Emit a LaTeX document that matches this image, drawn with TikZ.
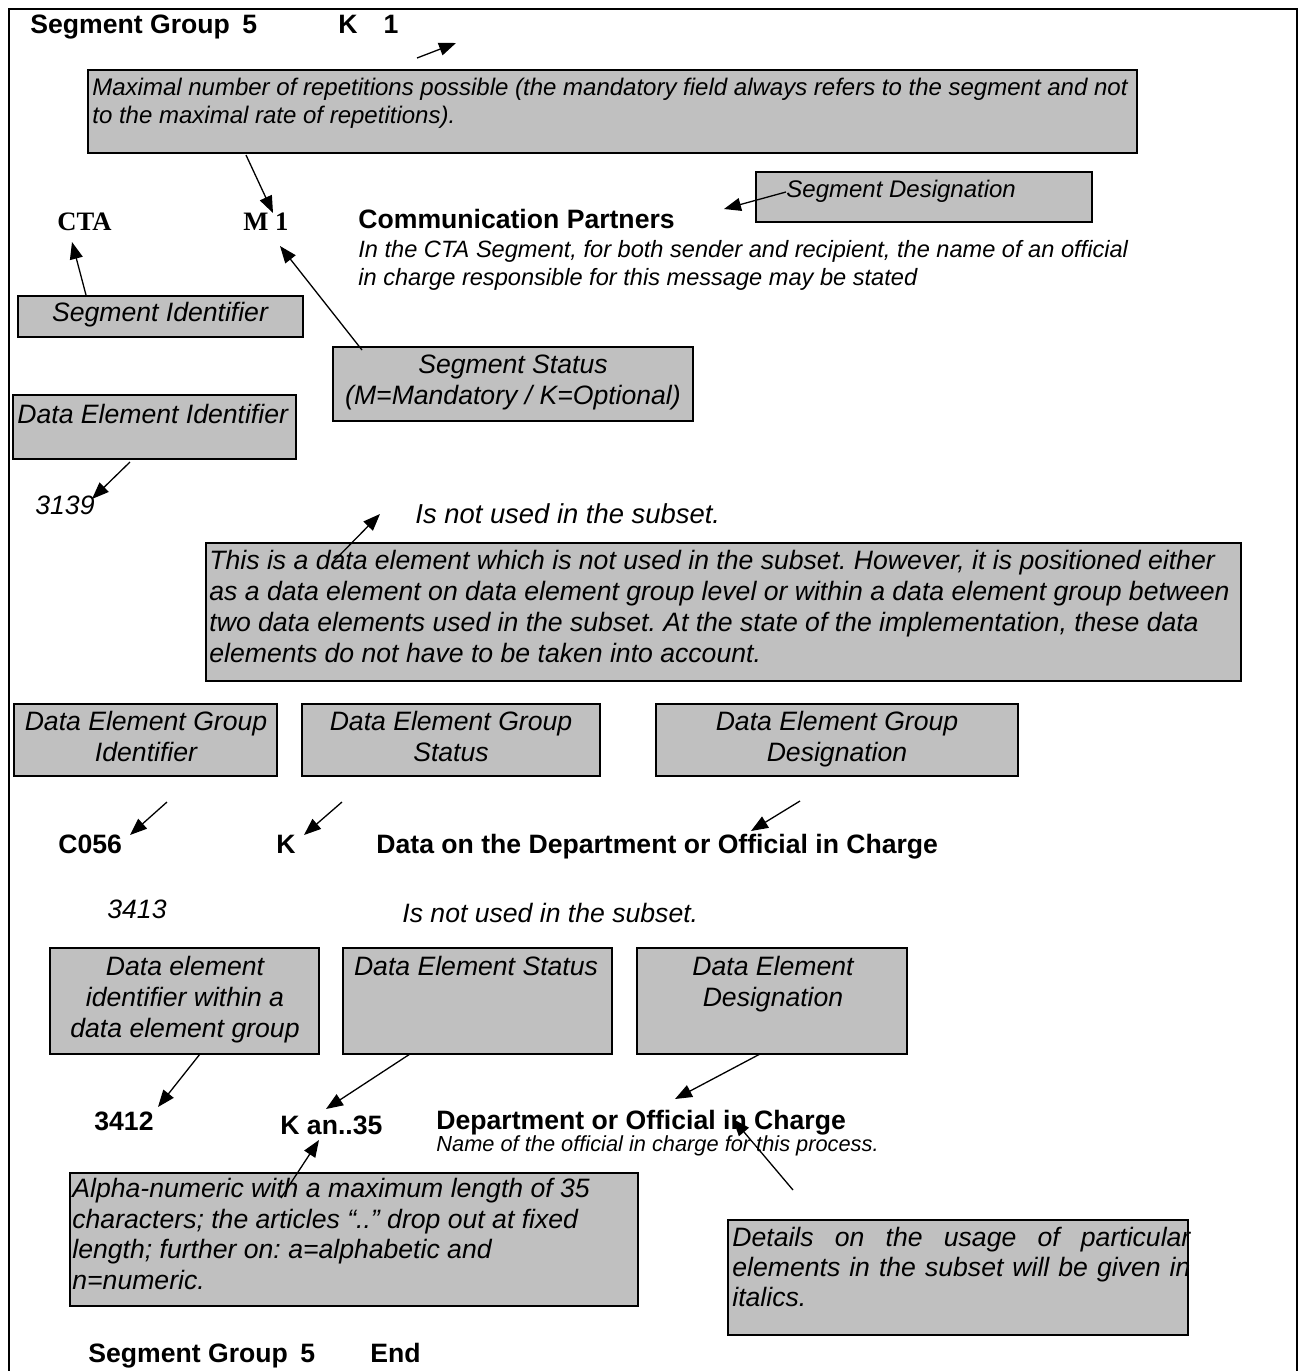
\documentclass[tikz,border=0pt]{standalone}
\usepackage{fontspec}
\setmainfont{Liberation Sans}
\newfontfamily\timesf{Liberation Serif}
\usetikzlibrary{arrows.meta,fit}
\definecolor{boxgray}{HTML}{C0C0C0}
\frenchspacing
\tikzset{
  gbox/.style={draw=black, fill=boxgray, line width=1pt, inner sep=0pt},
  arr/.style={-{Triangle[length=8.5pt,width=6.5pt]}, line width=0.65pt},
  boldt/.style={font=\fontsize{13.3}{15.5}\selectfont\bfseries, inner sep=0pt},
  timest/.style={font=\fontsize{13.3}{15.5}\selectfont\timesf\bfseries, inner sep=0pt},
  itt/.style={font=\fontsize{13.3}{15.5}\selectfont\itshape, inner sep=0pt},
  itbig/.style={font=\fontsize{13.7}{15.5}\selectfont\itshape, inner sep=0pt},
  itmid/.style={font=\fontsize{12}{14}\selectfont\itshape, inner sep=0pt},
  itsmall/.style={font=\fontsize{10.9}{13}\selectfont\itshape, inner sep=0pt},
}
\begin{document}
\frenchspacing
\begin{tikzpicture}[x=0.5pt,y=-0.5pt]
\useasboundingbox (0,0) rectangle (1306,1371);
% outer frame
\draw[line width=0.8pt] (9,1390) -- (9,9) -- (1297,9) -- (1297,1390);

% ---- boxes ----
\node[gbox, fit={(88,70) (1137,153)}] (b1) {};
\node[gbox, fit={(756,172) (1092,222)}] (segdes) {};
\node[gbox, fit={(18,296) (303,337)}] (segid) {};
\node[gbox, fit={(333,347) (693,421)}] (segstat) {};
\node[gbox, fit={(13,395) (296,459)}] (deid) {};
\node[gbox, fit={(206,543) (1241,681)}] (big) {};
\node[gbox, fit={(14,704) (277,776)}] (degid) {};
\node[gbox, fit={(302,704) (600,776)}] (degstat) {};
\node[gbox, fit={(656,704) (1018,776)}] (degdes) {};
\node[gbox, fit={(50,948) (319,1054)}] (deidg) {};
\node[gbox, fit={(343,948) (612,1054)}] (destat) {};
\node[gbox, fit={(637,948) (907,1054)}] (dedes) {};
\node[gbox, fit={(70,1173) (638,1306)}] (alpha) {};
\node[gbox, fit={(728,1220) (1188,1335)}] (details) {};

% ---- texts in boxes (multi-line nodes: base = last line) ----
\node[itmid, anchor=base west, align=left] (tb1) at (92,123)
  {Maximal number of repetitions possible (the mandatory field always refers to the segment and not\\to the maximal rate of repetitions).};
\node[itmid, anchor=base west] (tsegdes) at (786,197) {Segment Designation};
\node[itt, anchor=base] (tsegid) at (160,321) {Segment Identifier};
\node[itt, anchor=base, align=center] (tsegstat) at (513,404)
  {Segment Status\\(M=Mandatory / K=Optional)};
\node[itt, anchor=base west] (tdeid) at (17,423) {Data Element Identifier};
\node[itt, anchor=base west, align=left] (tbig) at (209,662)
  {This is a data element which is not used in the subset. However, it is positioned either\\as a data element on data element group level or within a data element group between\\two data elements used in the subset. At the state of the implementation, these data\\elements do not have to be taken into account.};
\node[itt, anchor=base, align=center] (tdegid) at (146,761) {Data Element Group\\Identifier};
\node[itt, anchor=base, align=center] (tdegstat) at (451,761) {Data Element Group\\Status};
\node[itt, anchor=base, align=center] (tdegdes) at (837,761) {Data Element Group\\Designation};
\node[itt, anchor=base, align=center] (tdeidg) at (185,1037) {Data element\\identifier within a\\data element group};
\node[itt, anchor=base] (tdestat) at (476,975) {Data Element Status};
\node[itt, anchor=base, align=center] (tdedes) at (773,1006) {Data Element\\Designation};
\node[itt, anchor=base west, align=left, font=\fontsize{13.3}{15.25}\selectfont\itshape] (talpha) at (72,1289)
  {Alpha-numeric with a maximum length of 35\\characters; the articles “..” drop out at fixed\\length; further on: a=alphabetic and\\n=numeric.};
\node[itt, anchor=base west, text width=229pt, align=justify, font=\fontsize{13.3}{15}\selectfont\itshape] (tdetails) at (732,1246)
  {Details on the usage of particular\linebreak elements in the subset will be given in\linebreak italics.};

% ---- free texts ----
\node[boldt, anchor=base west] (sg5) at (30,33) {Segment Group\hspace{2.5pt} 5};
\node[boldt, anchor=base west] (k1) at (338,33) {K\hspace{13pt}1};
\node[timest, anchor=base west] (cta) at (57,230) {CTA};
\node[timest, anchor=base west] (m1) at (243,230) {M 1};
\node[boldt, anchor=base west] (comm) at (358,228) {Communication Partners};
\node[itmid, anchor=base west, align=left, font=\fontsize{11.8}{14}\selectfont\itshape] (commtxt) at (358,285)
  {In the CTA Segment, for both sender and recipient, the name of an official\\in charge responsible for this message may be stated};
\node[itt, anchor=base west] (n3139) at (35,514) {3139};
\node[itbig, anchor=base west] (notused1) at (415,523) {Is not used in the subset.};
\node[boldt, anchor=base west] (c056) at (58,853) {C056};
\node[boldt, anchor=base west] (kdeg) at (276,853) {K};
\node[boldt, anchor=base west] (dataon) at (376,853) {Data on the Department or Official in Charge};
\node[itt, anchor=base west] (n3413) at (107,918) {3413};
\node[itt, anchor=base west] (notused2) at (402,922) {Is not used in the subset.};
\node[boldt, anchor=base west] (n3412) at (94,1130) {3412};
\node[boldt, anchor=base west] (kan) at (280,1134) {K an..35};
\node[boldt, anchor=base west] (dept) at (436,1129) {Department or Official in Charge};
\node[itsmall, anchor=base west] (namex) at (436,1151) {Name of the official in charge for this process.};
\node[boldt, anchor=base west] (sg5end) at (88,1362) {Segment Group\hspace{2.5pt} 5};
\node[boldt, anchor=base west] (endt) at (370,1362) {End};

% ---- connector ends ----
\coordinate (a1s) at (417,58);   \coordinate (a1e) at (456,43);
\coordinate (a2s) at (246,155);  \coordinate (a2e) at (273,213);
\coordinate (a3s) at (786,192);  \coordinate (a3e) at (724,209);
\coordinate (a4s) at (86,295);   \coordinate (a4e) at (72,242);
\coordinate (a5s) at (362,350);  \coordinate (a5e) at (280,246);
\coordinate (a6s) at (130,462);  \coordinate (a6e) at (92,499);
\coordinate (a7s) at (333,562);  \coordinate (a7e) at (380,514);
\coordinate (a8s) at (167,802);  \coordinate (a8e) at (130,835);
\coordinate (a9s) at (342,802);  \coordinate (a9e) at (304,835);
\coordinate (a10s) at (800,801); \coordinate (a10e) at (751,831);
\coordinate (a11s) at (200,1054); \coordinate (a11e) at (158,1107);
\coordinate (a12s) at (410,1054); \coordinate (a12e) at (326,1109);
\coordinate (a13s) at (760,1054); \coordinate (a13e) at (675,1099);
\coordinate (a14s) at (281,1198); \coordinate (a14e) at (319,1140);
\coordinate (a15s) at (793,1190); \coordinate (a15e) at (733,1119);

\foreach \i in {1,...,15} {\draw[arr] (a\i s) -- (a\i e);}
\end{tikzpicture}
\end{document}
